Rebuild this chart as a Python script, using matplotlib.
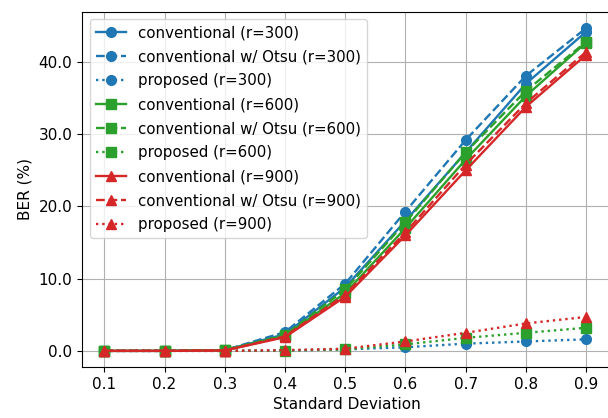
import matplotlib
matplotlib.use('Agg')
import matplotlib.pyplot as plt
from matplotlib.ticker import FormatStrFormatter

# Standard deviation values
std_dev = [0.1, 0.2, 0.3, 0.4, 0.5, 0.6, 0.7, 0.8, 0.9]

# BER (%)
conv_300 = [0.0, 0.0, 0.1, 2.3, 8.8, 18.0, 27.5, 37.0, 44.2]
otsu_300 = [0.0, 0.0, 0.1, 2.6, 9.3, 19.3, 29.2, 38.1, 44.7]
prop_300 = [0.0, 0.0, 0.0, 0.05, 0.2, 0.5, 1.0, 1.3, 1.6]
conv_600 = [0.0, 0.0, 0.1, 2.1, 8.0, 17.0, 26.5, 35.3, 42.7]
otsu_600 = [0.0, 0.0, 0.1, 2.2, 8.5, 17.8, 27.5, 36.0, 42.8]
prop_600 = [0.0, 0.0, 0.0, 0.05, 0.2, 0.9, 1.8, 2.5, 3.2]
conv_900 = [0.0, 0.0, 0.05, 1.9, 7.5, 16.0, 25.0, 33.8, 41.0]
otsu_900 = [0.0, 0.0, 0.05, 2.0, 7.8, 16.4, 25.8, 34.3, 41.4]
prop_900 = [0.0, 0.0, 0.0, 0.1, 0.3, 1.3, 2.5, 3.8, 4.7]

plt.rcParams['font.size'] = 11
plt.rcParams['lines.markersize'] = 7
plt.rcParams['lines.linewidth'] = 1.7

fig = plt.figure(figsize=(6.08, 4.18), dpi=100)
ax = fig.add_axes([82 / 608, 1 - 367 / 418, 530 / 608, 355 / 418])

series = [
    (conv_300, '-', 'o', 'tab:blue', 'conventional (r=300)'),
    (otsu_300, '--', 'o', 'tab:blue', 'conventional w/ Otsu (r=300)'),
    (prop_300, ':', 'o', 'tab:blue', 'proposed (r=300)'),
    (conv_600, '-', 's', 'tab:green', 'conventional (r=600)'),
    (otsu_600, '--', 's', 'tab:green', 'conventional w/ Otsu (r=600)'),
    (prop_600, ':', 's', 'tab:green', 'proposed (r=600)'),
    (conv_900, '-', '^', 'tab:red', 'conventional (r=900)'),
    (otsu_900, '--', '^', 'tab:red', 'conventional w/ Otsu (r=900)'),
    (prop_900, ':', '^', 'tab:red', 'proposed (r=900)'),
]
for vals, ls, mk, col, lab in series:
    ax.plot(std_dev, vals, linestyle=ls, marker=mk, color=col, label=lab)

ax.set_xticks(std_dev)
ax.set_xlim(0.063, 0.943)
ax.yaxis.set_major_formatter(FormatStrFormatter('%.1f'))
ax.set_xlabel('Standard Deviation')
ax.set_ylabel('BER (%)')
ax.grid(True)
ax.legend(loc='upper left', labelspacing=0.6, fontsize=10.8)

fig.savefig('out.png', dpi=100)
